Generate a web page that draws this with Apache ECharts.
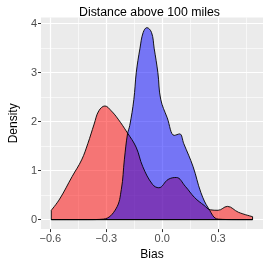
<!DOCTYPE html>
<html><head><meta charset="utf-8">
<script src="https://cdn.jsdelivr.net/npm/echarts@6/dist/echarts.min.js"></script>
<style>html,body{margin:0;padding:0;background:#fff}#c{width:266px;height:266px}</style>
</head><body><div id="c"></div>
<script>
const titleText = 'Distance above 100 miles';
const xName = 'Bias';
const yName = 'Density';
const xTicks = [-0.6, -0.3, 0, 0.3];
const xTickLabels = ['\u22120.6', '\u22120.3', '0.0', '0.3'];
const xMinor = [-0.45, -0.15, 0.15, 0.45];
const yTicks = [0, 1, 2, 3, 4];
const yTickLabels = ['0', '1', '2', '3', '4'];
const yMinor = [0.5, 1.5, 2.5, 3.5];

const redX = [-0.595,-0.55,-0.483,-0.432,-0.399,-0.365,-0.34,-0.307,-0.273,-0.236,-0.188,-0.14,-0.104,-0.052,-0.018,0.032,0.076,0.124,0.174,0.225,0.258,0.30,0.35,0.409,0.485];
const redY = [0.19,0.42,0.88,1.22,1.55,1.95,2.22,2.32,2.22,2.05,1.78,1.48,1.08,0.72,0.65,0.82,0.86,0.68,0.45,0.29,0.20,0.19,0.27,0.15,0.06];
const blueX = [-0.595,-0.40,-0.315,-0.248,-0.219,-0.203,-0.186,-0.174,-0.152,-0.139,-0.119,-0.102,-0.082,-0.057,-0.043,-0.023,-0.008,0.027,0.065,0.094,0.116,0.166,0.208,0.25,0.30,0.40,0.485];
const blueY = [0,0,0.01,0.22,0.62,1.22,1.75,1.92,2.45,3.0,3.5,3.82,3.92,3.82,3.5,3.0,2.46,2.08,1.72,1.75,1.55,1.08,0.55,0.22,0.01,0,0];

const zip = (xs, ys) => xs.map((x, i) => [x, ys[i]]);
const outline = (xs, ys) => [[xs[0], ys[0]], [xs[0], 0], [xs[xs.length-1], 0], [xs[xs.length-1], ys[ys.length-1]]];

const xMin = -0.65, xMax = 0.541, yMin = -0.194, yMax = 4.127;
const lab = {color: '#4d4d4d', fontSize: 11, fontFamily: 'Liberation Sans'};

const gridLines = [
  ...xTicks.map(v => ({xAxis: v, lineStyle: {width: 1.2}})),
  ...xMinor.map(v => ({xAxis: v, lineStyle: {width: 0.6}})),
  ...yTicks.map(v => ({yAxis: v, lineStyle: {width: 1.2}})),
  ...yMinor.map(v => ({yAxis: v, lineStyle: {width: 0.6}}))
];

const chart = echarts.init(document.getElementById('c'));
chart.setOption({
  animation: false,
  backgroundColor: '#ffffff',
  title: {text: titleText, left: 144.5, textAlign: 'center', top: 2,
    textStyle: {fontSize: 12.3, fontWeight: 'normal', color: '#000', fontFamily: 'Liberation Sans'}},
  grid: {left: 26, right: 3, top: 17.5, bottom: 32, show: true, backgroundColor: '#ebebeb', borderWidth: 0},
  xAxis: {type: 'value', min: xMin, max: xMax, name: xName, nameLocation: 'middle', nameGap: 16,
     nameTextStyle: {fontSize: 12, color: '#000', fontFamily: 'Liberation Sans'},
     axisLine: {show: false, onZero: false},
     axisTick: {show: true, length: 3, lineStyle: {color: '#333', width: 1}, customValues: xTicks},
     axisLabel: {margin: 4, customValues: xTicks, formatter: v => xTickLabels[xTicks.findIndex(t => Math.abs(t - v) < 1e-9)], ...lab},
     splitLine: {show: false}},
  yAxis: {type: 'value', min: yMin, max: yMax, name: yName, nameLocation: 'middle', nameGap: 12,
     nameTextStyle: {fontSize: 12, color: '#000', fontFamily: 'Liberation Sans'},
     axisLine: {show: false, onZero: false},
     axisTick: {show: true, length: 3, lineStyle: {color: '#333', width: 1}, customValues: yTicks},
     axisLabel: {margin: 4, customValues: yTicks, formatter: v => yTickLabels[yTicks.findIndex(t => Math.abs(t - v) < 1e-9)], ...lab},
     splitLine: {show: false}},
  series: [
    {type: 'line', data: [], silent: true, z: 0,
     markLine: {silent: true, symbol: 'none', z: 0, label: {show: false}, animation: false,
       lineStyle: {color: '#ffffff', type: 'solid'}, data: gridLines}},
    {type: 'line', data: zip(redX, redY), smooth: 0.4, symbol: 'none', z: 3,
     lineStyle: {color: '#000', width: 0.9}, areaStyle: {color: 'rgba(255,0,0,0.5)', opacity: 1, origin: 0}},
    {type: 'line', data: outline(redX, redY), symbol: 'none', z: 3, lineStyle: {color: '#000', width: 0.9}},
    {type: 'line', data: zip(blueX, blueY), smooth: 0.4, symbol: 'none', z: 3,
     lineStyle: {color: '#000', width: 0.9}, areaStyle: {color: 'rgba(0,0,255,0.5)', opacity: 1, origin: 0}},
    {type: 'line', data: outline(blueX, blueY), symbol: 'none', z: 3, lineStyle: {color: '#000', width: 0.9}}
  ]
});
</script></body></html>
